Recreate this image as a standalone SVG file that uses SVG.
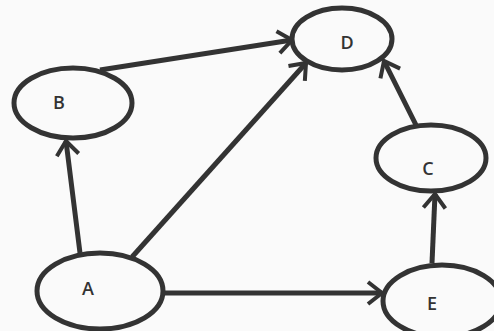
<svg xmlns="http://www.w3.org/2000/svg" width="494" height="331" viewBox="0 0 494 331">
<style>
.node ellipse{fill:#fafafa;stroke:#333;stroke-width:5}
.node text{font-family:"Open Sans","DejaVu Sans",sans-serif;font-size:18px;font-weight:600;fill:#333;text-anchor:middle;dominant-baseline:central}
.edge{stroke:#333;stroke-width:5;fill:none;marker-end:url(#arr)}
</style>
<defs>
<marker id="arr" markerUnits="userSpaceOnUse" viewBox="-18 -14 22 28" markerWidth="22" markerHeight="28" refX="0" refY="0" orient="auto">
<path d="M-14,-11 L0,0 L-14,11" fill="none" stroke="#333" stroke-width="4"/>
</marker>
</defs>
<rect width="494" height="331" fill="#fafafa"/>
<g id="edges">
<line class="edge" x1="80" y1="253" x2="66" y2="141"/>
<line class="edge" x1="132" y1="257" x2="306" y2="63"/>
<line class="edge" x1="100" y1="70" x2="292" y2="40"/>
<line class="edge" x1="417" y1="127" x2="384" y2="61"/>
<line class="edge" x1="432" y1="263" x2="435" y2="194"/>
<line class="edge" x1="163" y1="293" x2="382" y2="293"/>
</g>
<g id="B" class="node"><ellipse cx="73" cy="103" rx="59" ry="35"/><text x="59" y="102">B</text></g>
<g id="D" class="node"><ellipse cx="342" cy="39" rx="50" ry="31"/><text x="347" y="42">D</text></g>
<g id="C" class="node"><ellipse cx="431" cy="158" rx="55" ry="33"/><text x="428" y="168">C</text></g>
<g id="A" class="node"><ellipse cx="100" cy="291" rx="63" ry="38"/><text x="88" y="288">A</text></g>
<g id="E" class="node"><ellipse cx="442" cy="301" rx="59" ry="36"/><text x="432" y="303">E</text></g>
</svg>
